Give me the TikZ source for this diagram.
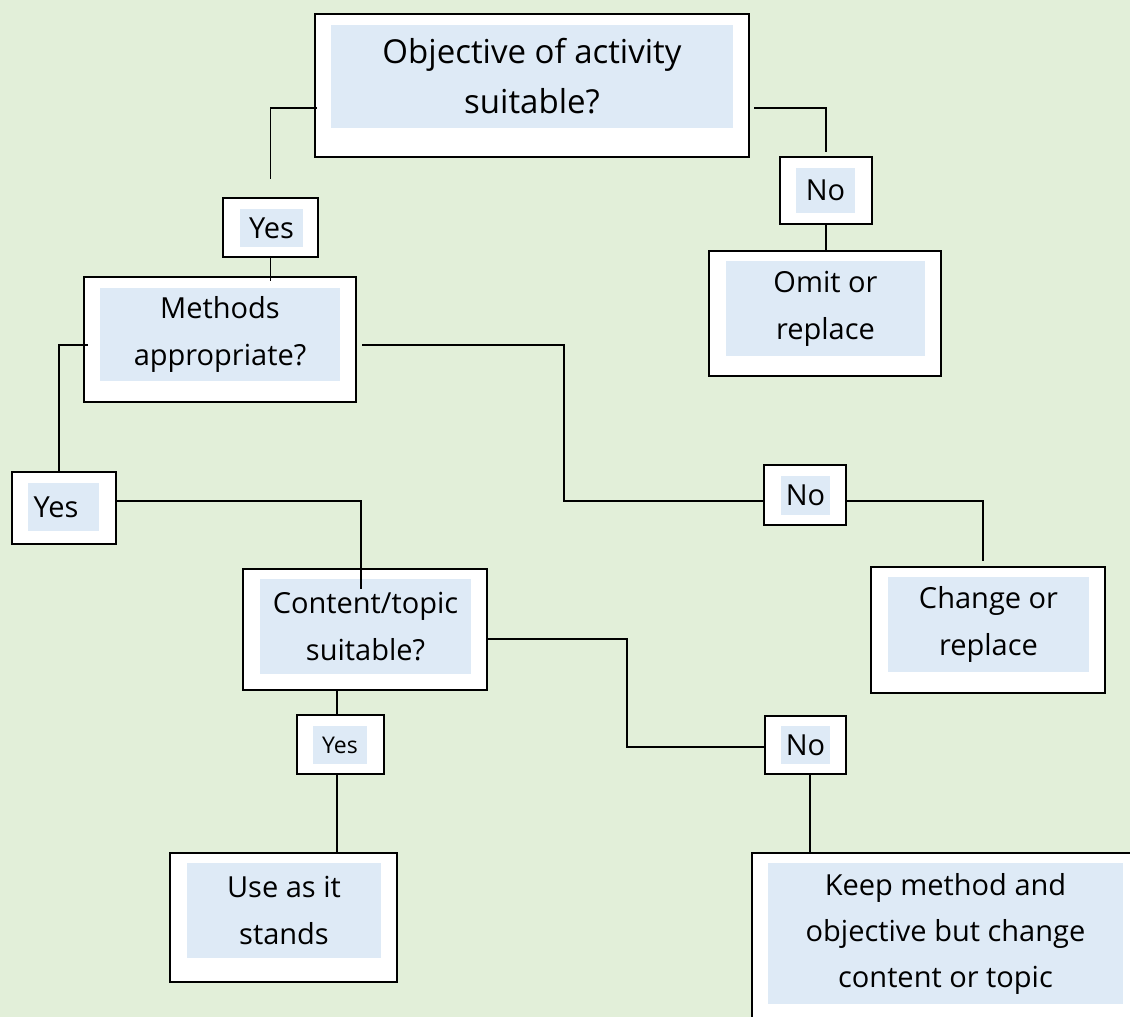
\documentclass[tikz,border=0pt]{standalone}
\usepackage{fontspec}
\setmainfont{Open Sans}
\usetikzlibrary{calc}
\definecolor{bg}{HTML}{E2EFD9}
\definecolor{inblue}{HTML}{DEEAF6}
\tikzset{
  outerbox/.style={draw=black, line width=2.2pt, fill=white, inner sep=0pt},
  innerbox/.style={fill=inblue, inner sep=0pt, align=center, font=\fontsize{29}{47}\selectfont},
  conn/.style={draw=black, line width=1.8pt},
}
\begin{document}
\begin{tikzpicture}[x=1pt,y=-1pt]
\fill[bg] (0,0) rectangle (1130,1017);
\useasboundingbox (0,0) rectangle (1130,1017);
\clip (0,0) rectangle (1130,1017);

% outer boxes
\node[outerbox, minimum width=434, minimum height=143] (obj) at (532,85.5) {};
\node[outerbox, minimum width=92, minimum height=67] (no1) at (826,190.5) {};
\node[outerbox, minimum width=232, minimum height=125] (omit) at (825,313.5) {};
\node[outerbox, minimum width=95, minimum height=59] (yes1) at (270.5,227.5) {};
\node[outerbox, minimum width=272, minimum height=125] (meth) at (220,339.5) {};
\node[outerbox, minimum width=104, minimum height=72] (yes2) at (64,508) {};
\node[outerbox, minimum width=82, minimum height=60] (no2) at (805,495) {};
\node[outerbox, minimum width=234, minimum height=126] (change) at (988,630) {};
\node[outerbox, minimum width=244, minimum height=121] (content) at (365,629.5) {};
\node[outerbox, minimum width=87, minimum height=59] (yes3) at (340.5,744.5) {};
\node[outerbox, minimum width=81, minimum height=58] (no3) at (805.5,745) {};
\node[outerbox, minimum width=227, minimum height=129] (use) at (283.5,917.5) {};
\node[outerbox, minimum width=398, minimum height=187] (keep) at (951,946.5) {};

% inner shaded text areas
\node[innerbox, minimum width=402, minimum height=103, font=\fontsize{33}{50}\selectfont] (obj-t) at (532,76.5) {Objective of activity\\suitable?};
\node[innerbox, minimum width=59, minimum height=45] (no1-t) at (825.5,190.5) {No};
\node[innerbox, minimum width=199, minimum height=95] (omit-t) at (825.5,308.5) {Omit or\\replace};
\node[innerbox, minimum width=63, minimum height=38] (yes1-t) at (271.5,228) {Yes};
\node[innerbox, minimum width=240, minimum height=93] (meth-t) at (220,334.5) {Methods\\appropriate?};
\node[innerbox, minimum width=71, minimum height=48] (yes2-b) at (63.5,507) {};
\node[inner sep=0pt, font=\fontsize{29}{47}\selectfont] (yes2-t) at (56,507) {Yes};
\node[innerbox, minimum width=49, minimum height=39] (no2-t) at (805.5,495.5) {No};
\node[innerbox, minimum width=201, minimum height=95] (change-t) at (988.5,624.5) {Change or\\replace};
\node[innerbox, minimum width=211, minimum height=95] (content-t) at (365.5,626.5) {Content/topic\\suitable?};
\node[innerbox, minimum width=54, minimum height=38, font=\fontsize{23}{30}\selectfont] (yes3-t) at (340,745) {Yes};
\node[innerbox, minimum width=49, minimum height=38] (no3-t) at (805.5,745) {No};
\node[innerbox, minimum width=194, minimum height=95] (use-t) at (284,910.5) {Use as it\\stands};
\node[innerbox, minimum width=355, minimum height=141, font=\fontsize{29}{46}\selectfont] (keep-t) at (945.5,933.5) {Keep method and\\objective but change\\content or topic};

% connectors
\draw[conn] ($(obj.west)+(3,22.5)$) -| ($(yes1.north)+(0,-18)$);
\draw[conn] (yes1.south) -- ($(yes1.south |- meth.north)+(0,5)$);
\draw[conn] ($(obj.east)+(4,22.5)$) -| ($(no1.north)+(0,-4)$);
\draw[conn] (no1.south) -- ($(no1.south |- omit.north)+(0,2)$);
\draw[conn] ($(meth.west)+(5,5.5)$) -| ($(yes2.north)+(-5,0)$);
\draw[conn] ($(yes2.east)+(0,-7)$) -| ($(content.north)+(-4,21)$);
\draw[conn] ($(meth.east)+(5,5.5)$) -- ++(202,0) |- ($(no2.west)+(0,6)$);
\draw[conn] ($(no2.east)+(0,6)$) -| ($(change.north)+(-5,-5)$);
\draw[conn] ($(content.east)+(0,9.5)$) -- ++(139,0) |- ($(no3.west)+(0,2)$);
\coordinate (y3t) at ($(yes3.north)+(-3.5,0)$);
\draw[conn] (y3t) -- (y3t |- content.south);
\coordinate (y3b) at ($(yes3.south)+(-3.5,0)$);
\draw[conn] (y3b) -- (y3b |- use.north);
\coordinate (n3b) at ($(no3.south)+(4.5,0)$);
\draw[conn] (n3b) -- (n3b |- keep.north);
\end{tikzpicture}
\end{document}
